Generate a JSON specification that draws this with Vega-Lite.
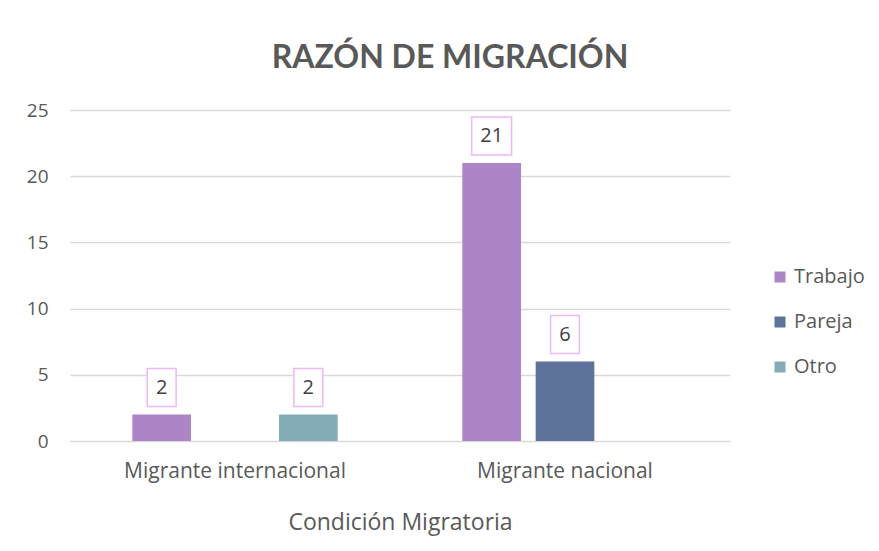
{
  "$schema": "https://vega.github.io/schema/vega-lite/v6.json",
  "width": 660,
  "height": 331,
  "autosize": {"type": "none"},
  "padding": {"left": 70, "top": 110, "right": 149, "bottom": 110},
  "background": "white",
  "title": {
    "text": "RAZÓN DE MIGRACIÓN",
    "font": "Lato",
    "fontSize": 32,
    "fontWeight": "bold",
    "color": "#595959",
    "anchor": "middle",
    "dx": 50,
    "baseline": "alphabetic",
    "offset": 1
  },
  "data": {
    "values": [
      {"Condicion": "Migrante internacional", "Razon": "Trabajo", "Cantidad": 2},
      {"Condicion": "Migrante internacional", "Razon": "Otro", "Cantidad": 2},
      {"Condicion": "Migrante nacional", "Razon": "Trabajo", "Cantidad": 21},
      {"Condicion": "Migrante nacional", "Razon": "Pareja", "Cantidad": 6}
    ]
  },
  "encoding": {
    "x": {
      "field": "Condicion",
      "type": "nominal",
      "sort": ["Migrante internacional", "Migrante nacional"],
      "scale": {"paddingInner": 0.3333, "paddingOuter": 0.16667},
      "axis": {
        "title": "Condición Migratoria",
        "labelAngle": 0,
        "labelLimit": 500,
        "labelFont": "Open Sans",
        "labelFontSize": 21,
        "labelColor": "#595959",
        "labelPadding": 19,
        "domain": true,
        "domainColor": "#D9D9D9",
        "domainWidth": 1,
        "ticks": false,
        "titleFont": "Open Sans",
        "titleFontSize": 23,
        "titleFontWeight": "normal",
        "titleColor": "#595959",
        "titlePadding": 30
      }
    },
    "xOffset": {
      "field": "Razon",
      "type": "nominal",
      "scale": {"domain": ["Trabajo", "Pareja", "Otro"], "paddingInner": 0.2, "paddingOuter": 0.1}
    },
    "y": {
      "field": "Cantidad",
      "type": "quantitative",
      "scale": {"domain": [0, 25]},
      "axis": {
        "title": null,
        "values": [0, 5, 10, 15, 20, 25],
        "labelFont": "Open Sans",
        "labelFontSize": 19,
        "labelColor": "#595959",
        "labelPadding": 22,
        "domain": false,
        "ticks": false,
        "grid": true,
        "gridColor": "#D9D9D9",
        "gridWidth": 1.3
      }
    }
  },
  "layer": [
    {
      "mark": {"type": "bar"},
      "encoding": {
        "color": {
          "field": "Razon",
          "type": "nominal",
          "scale": {"domain": ["Trabajo", "Pareja", "Otro"], "range": ["#AD84C6", "#5D739A", "#84ACB6"]},
          "legend": {
            "title": null,
            "orient": "none",
            "legendX": 700,
            "legendY": 157,
            "symbolType": "square",
            "symbolSize": 121,
            "symbolStrokeWidth": 0,
            "labelFont": "Open Sans",
            "labelFontSize": 20,
            "labelColor": "#595959",
            "labelOffset": 4,
            "rowPadding": 25
          }
        }
      }
    },
    {
      "mark": {"type": "point", "filled": true, "fill": "white", "stroke": "#EBB8FA", "strokeWidth": 1.5, "opacity": 1, "yOffset": -27},
      "encoding": {
        "size": {"value": 1444},
        "shape": {
          "condition": {"test": "datum.Cantidad >= 10", "value": "M-1.05,-1H1.05V1H-1.05Z"},
          "value": "M-0.76,-1H0.76V1H-0.76Z"
        }
      }
    },
    {
      "mark": {"type": "text", "font": "Open Sans", "fontSize": 20, "color": "#404040", "baseline": "middle", "yOffset": -27},
      "encoding": {
        "text": {"field": "Cantidad", "type": "quantitative"}
      }
    }
  ],
  "config": {
    "view": {"stroke": null}
  }
}
